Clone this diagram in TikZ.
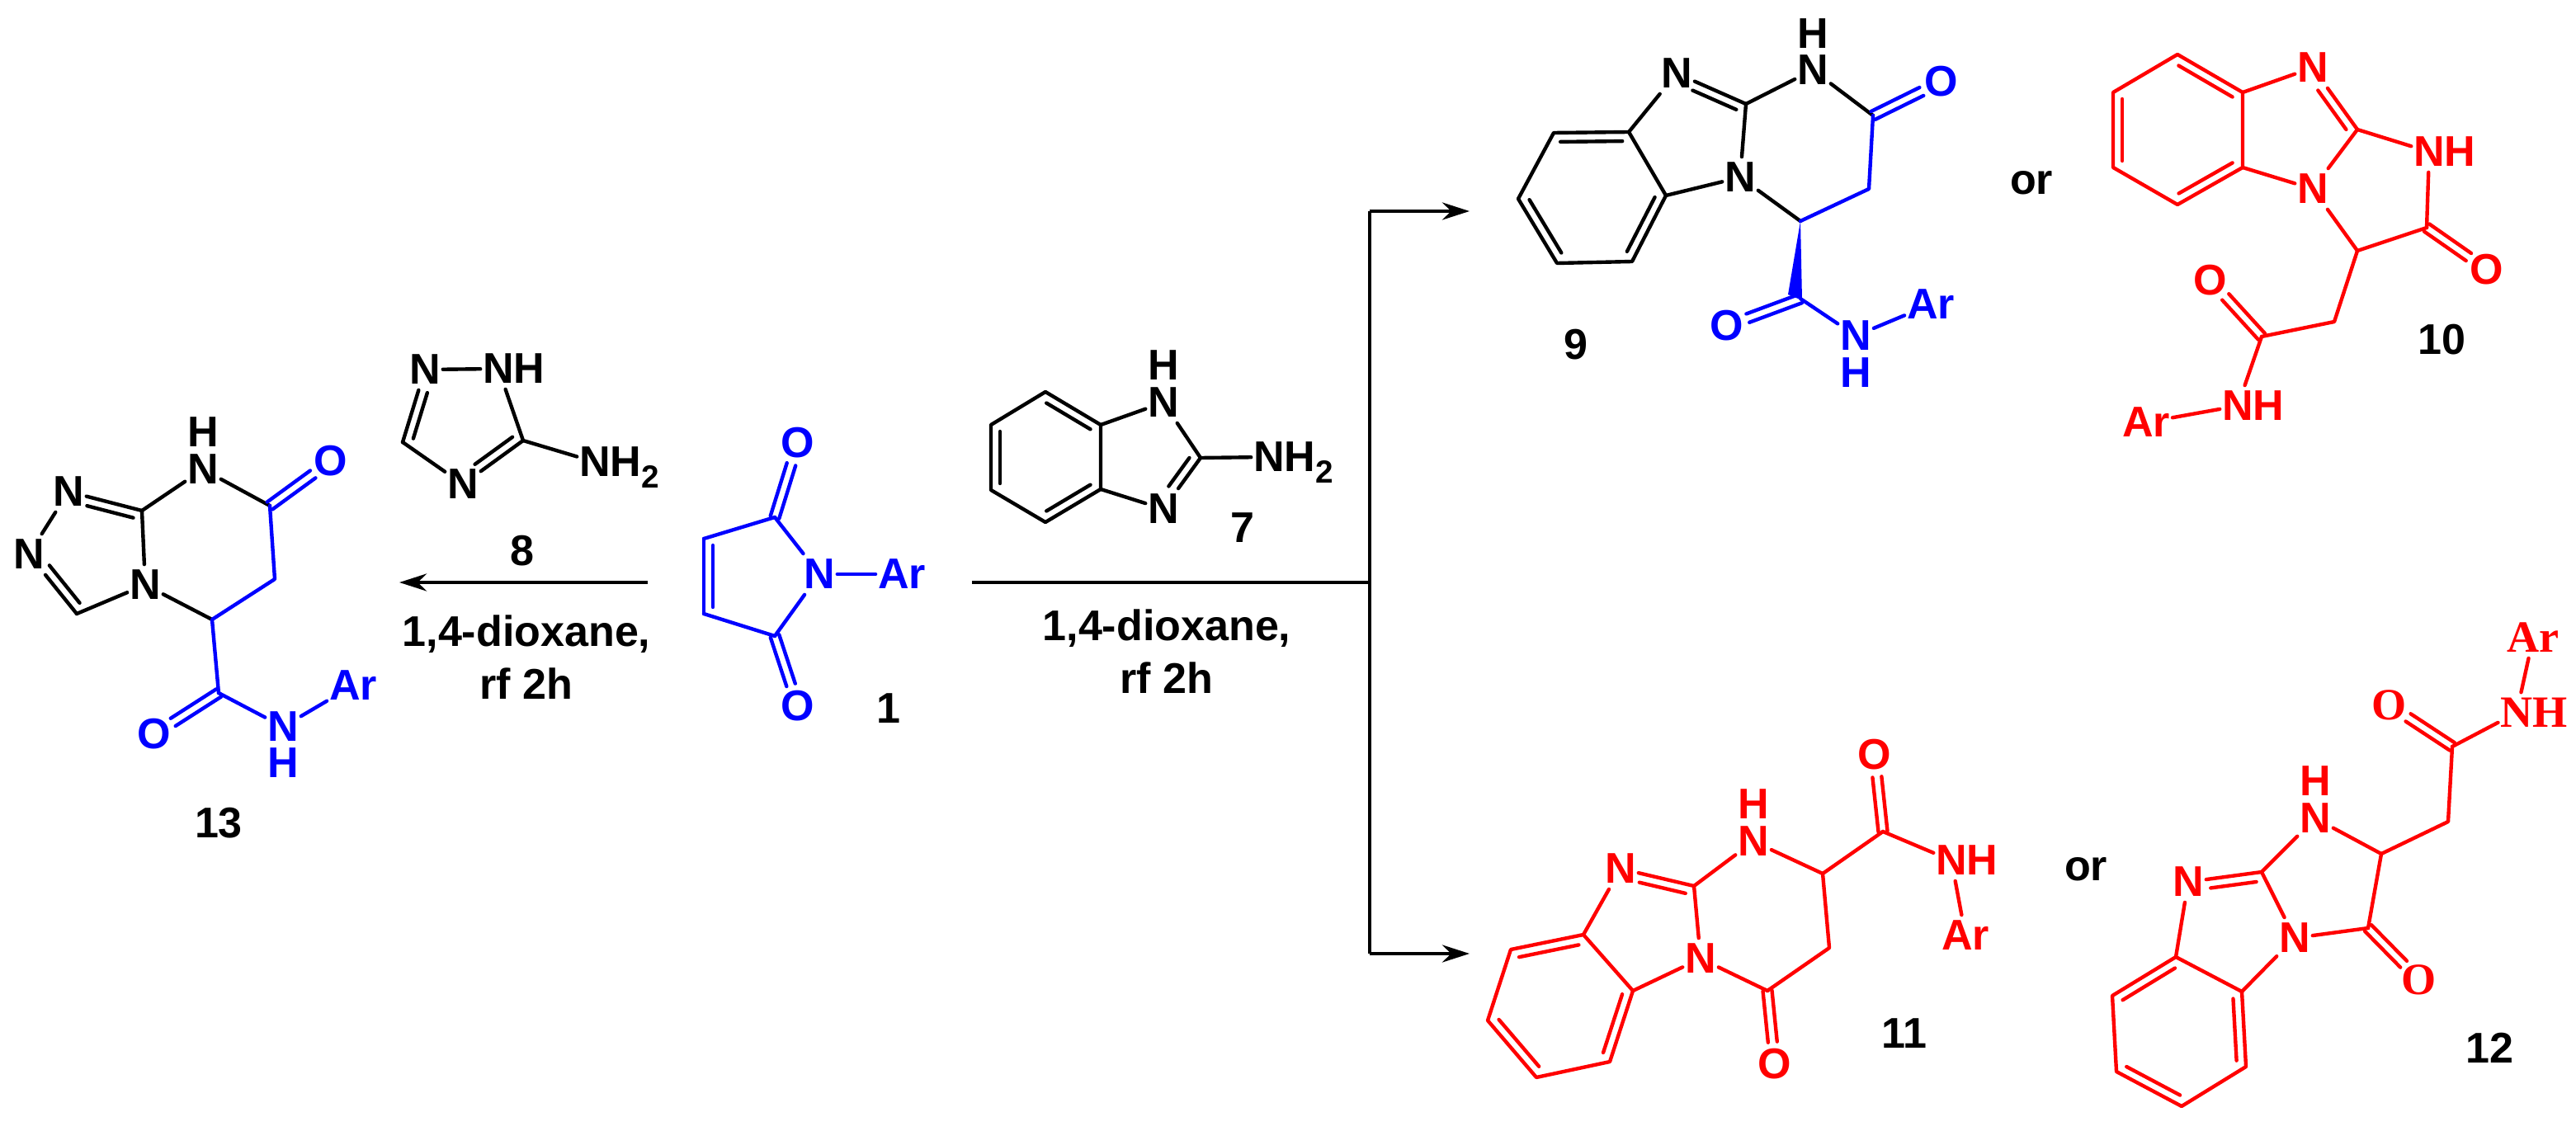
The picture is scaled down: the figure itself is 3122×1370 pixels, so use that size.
\documentclass[tikz,border=0pt]{standalone}
\usepackage{fontspec}
\setmainfont{Liberation Sans}
\newfontfamily\serifchem{Liberation Serif}
\usetikzlibrary{calc}
\usetikzlibrary{arrows.meta}

\newcommand{\chemfont}{\fontsize{14.8}{18.2}\selectfont\bfseries}
\newcommand{\subtwo}{\smash{\raisebox{-0.26em}{\fontsize{11}{11}\selectfont 2}}}
\tikzset{
    bond/.style={line width=1.25pt, line cap=round, line join=round},
    atom/.style={rectangle, inner xsep=0.03cm, inner ysep=0.07cm, outer sep=0pt, font=\chemfont},
    hatom/.style={atom, inner ysep=0pt},
    serifatom/.style={atom, font=\fontsize{15.4}{18}\selectfont\serifchem\bfseries},
    lbl/.style={inner sep=0pt, outer sep=0pt, font=\chemfont, align=center},
    rxn/.style={line width=1.35pt},
    head/.style={-{Stealth[length=0.33cm, width=0.21cm]}},
    fromatom/.style={shorten <=0.26cm},
    toatom/.style={shorten >=0.26cm},
}
% ring double bond, the short line lies on the right of a -> b
\newcommand{\indbl}[3][]{%
    \draw[bond] (#2)--(#3);
    \draw[bond, shorten <=0.08cm, shorten >=0.08cm, #1] ($(#2)!0.11cm!-90:(#3)$)--($(#3)!0.11cm!90:(#2)$);
}
% carbonyl, two equal lines
\newcommand{\cobond}[2]{%
    \draw[bond, shorten >=0.27cm] ($(#1)!0.055cm!-90:(#2)$)--($(#2)!0.055cm!90:(#1)$);
    \draw[bond, shorten >=0.27cm] ($(#1)!0.055cm!90:(#2)$)--($(#2)!0.055cm!-90:(#1)$);
}
% benzene ring from the coordinates name1..name6, clockwise
\newcommand{\benzring}[1]{%
    \draw[bond] (#11)--(#12)--(#13)--(#14)--(#15)--(#16)--cycle;
    \draw[bond, shorten <=0.08cm, shorten >=0.08cm] ($(#11)!0.11cm!-90:(#12)$)--($(#12)!0.11cm!90:(#11)$);
    \draw[bond, shorten <=0.08cm, shorten >=0.08cm] ($(#13)!0.11cm!-90:(#14)$)--($(#14)!0.11cm!90:(#13)$);
    \draw[bond, shorten <=0.08cm, shorten >=0.08cm] ($(#15)!0.11cm!-90:(#16)$)--($(#16)!0.11cm!90:(#15)$);
}

\begin{document}
\begin{tikzpicture}[x=0.01cm, y=-0.01cm]
    \useasboundingbox (0,0) rectangle (3122,1370);
    % - Reaction lines
    \coordinate (arrowtail) at (785,706);
    \coordinate (arrowtip) at (484,706);
    \coordinate (forkstart) at (1178,706);
    \coordinate (fork) at (1660,706);
    \coordinate (forkup) at (1660,256);
    \coordinate (forkdown) at (1660,1156);
    \coordinate (tipup) at (1781,256);
    \coordinate (tipdown) at (1781,1156);
    \draw[rxn, head] (arrowtail)--(arrowtip);
    \draw[rxn] (forkstart)--(fork);
    \draw[rxn] (forkup)--(forkdown);
    \draw[rxn, head] (forkup)--(tipup);
    \draw[rxn, head] (forkdown)--(tipdown);
    % - Conditions
    \node[lbl] (condleft) at (638,797){1,4-dioxane,\\rf 2h};
    \node[lbl] (condright) at (1414,790){1,4-dioxane,\\rf 2h};
    % - Compound numbers
    \node[lbl] (num1) at (1077,859){1};
    \node[lbl] (num7) at (1506,640){7};
    \node[lbl] (num8) at (633,668){8};
    \node[lbl] (num9) at (1910,418){9};
    \node[lbl] (num10) at (2959,412){10};
    \node[lbl] (num11) at (2308,1253){11};
    \node[lbl] (num12) at (3017,1270){12};
    \node[lbl] (num13) at (265,998){13};
    \node[lbl] (orup) at (2462,222){or};
    \node[lbl] (ordown) at (2528,1054){or};
    % - Compound 7
    \coordinate (g71) at (1267,475);
    \coordinate (g72) at (1334,515);
    \coordinate (g73) at (1334,593);
    \coordinate (g74) at (1267,633);
    \coordinate (g75) at (1201,594);
    \coordinate (g76) at (1201,515);
    \coordinate (c7a) at (1455,555);
    \node[atom] (n7a) at (1410,488){N};
    \node[hatom] (h7a) at (1410,443){H};
    \node[atom] (n7b) at (1410,617){N};
    \node[atom] (n7c) at (1538,554){N\rlap{H\subtwo}};
    \benzring{g7}
    \draw[bond] (g72)--(n7a);
    \draw[bond] (n7a)--(c7a);
    \draw[bond] (g73)--(n7b);
    \draw[bond] (c7a)--(n7c);
    \indbl[toatom]{c7a}{n7b}
    % - Compound 8
    \coordinate (c8a) at (634,534);
    \coordinate (c8b) at (488,536);
    \node[atom] (n8a) at (515,448){N};
    \node[atom] (n8b) at (604,447){N\rlap{H}};
    \node[atom] (n8c) at (561,587){N};
    \node[atom] (n8d) at (721,560){N\rlap{H\subtwo}};
    \draw[bond] (n8a)--(n8b);
    \draw[bond] (n8b)--(c8a);
    \draw[bond] (c8a)--(n8d);
    \draw[bond] (c8b)--(n8c);
    \indbl[toatom]{c8a}{n8c}
    \indbl[toatom]{c8b}{n8a}
    % - Compound 1
    \begin{scope}[blue]
        \coordinate (c1a) at (939,627);
        \coordinate (c1b) at (853,653);
        \coordinate (c1c) at (853,744);
        \coordinate (c1d) at (939,771);
        \node[atom] (n1a) at (993,696){N};
        \node[atom] (ar1) at (1093,696){Ar};
        \node[atom] (o1a) at (967,537){O};
        \node[atom] (o1b) at (967,856){O};
        \draw[bond] (c1b)--(c1a);
        \draw[bond] (c1c)--(c1d);
        \draw[bond] (c1a)--(n1a);
        \draw[bond] (c1d)--(n1a);
        \draw[bond] (n1a)--(ar1);
        \indbl{c1c}{c1b}
        \cobond{c1a}{o1a}
        \cobond{c1d}{o1b}
    \end{scope}
    % - Compound 13
    \coordinate (c13a) at (172,619);
    \coordinate (c13b) at (93,744);
    \coordinate (c13c) at (327,613);
    \coordinate (c13d) at (257,751);
    \coordinate (c13e) at (333,702);
    \coordinate (c13f) at (265,840);
    \node[atom] (n13a) at (83,596){N};
    \node[atom] (n13b) at (35,672){N};
    \node[atom] (n13c) at (176,709){N};
    \node[atom] (n13d) at (246,569){N};
    \node[hatom] (h13d) at (246,524){H};
    \draw[bond] (n13a)--(n13b);
    \draw[bond] (c13a)--(n13c);
    \draw[bond] (c13b)--(n13c);
    \draw[bond] (c13a)--(n13d);
    \draw[bond] (n13d)--(c13c);
    \draw[bond] (n13c)--(c13d);
    \indbl[fromatom]{n13a}{c13a}
    \indbl[toatom]{c13b}{n13b}
    \begin{scope}[blue]
        \node[atom] (o13a) at (401,559){O};
        \node[atom] (o13b) at (187,890){O};
        \node[atom] (n13e) at (343,881){N};
        \node[hatom] (h13e) at (343,925){H};
        \node[atom] (ar13) at (428,831){Ar};
        \draw[bond] (c13c)--(c13e)--(c13d)--(c13f);
        \draw[bond] (c13f)--(n13e);
        \draw[bond] (n13e)--(ar13);
        \cobond{c13c}{o13a}
        \cobond{c13f}{o13b}
    \end{scope}
    % - Compound 9
    \coordinate (g91) at (1883,161);
    \coordinate (g92) at (1974,160);
    \coordinate (g93) at (2019,237);
    \coordinate (g94) at (1978,317);
    \coordinate (g95) at (1887,319);
    \coordinate (g96) at (1840,241);
    \coordinate (c9a) at (2116,126);
    \coordinate (c9b) at (2270,140);
    \coordinate (c9c) at (2265,229);
    \coordinate (c9d) at (2182,268);
    \coordinate (c9e) at (2182,362);
    \coordinate (w9a) at (2167,357);
    \coordinate (w9b) at (2184,364);
    \node[atom] (n9a) at (2032,89){N};
    \node[atom] (n9b) at (2197,85){N};
    \node[hatom] (h9b) at (2197,41){H};
    \node[atom] (n9c) at (2109,215){N};
    \benzring{g9}
    \draw[bond] (g92)--(n9a);
    \draw[bond] (g93)--(n9c);
    \draw[bond] (c9a)--(n9b);
    \draw[bond] (c9a)--(n9c);
    \draw[bond] (n9b)--(c9b);
    \draw[bond] (n9c)--(c9d);
    \indbl[fromatom]{n9a}{c9a}
    \begin{scope}[blue]
        \node[atom] (o9a) at (2353,99){O};
        \node[atom] (o9b) at (2093,395){O};
        \node[atom] (n9d) at (2249,407){N};
        \node[hatom] (h9d) at (2249,452){H};
        \node[atom] (ar9) at (2340,369){Ar};
        \draw[bond] (c9b)--(c9c)--(c9d);
        \fill (c9d)--(w9a)--(w9b)--cycle;
        \draw[bond] (c9e)--(n9d);
        \draw[bond] (n9d)--(ar9);
        \cobond{c9b}{o9a}
        \cobond{c9e}{o9b}
    \end{scope}
    % - Compound 10
    \begin{scope}[red]
        \coordinate (g101) at (2639,66);
        \coordinate (g102) at (2718,112);
        \coordinate (g103) at (2718,203);
        \coordinate (g104) at (2639,248);
        \coordinate (g105) at (2561,203);
        \coordinate (g106) at (2561,112);
        \coordinate (c10a) at (2857,157);
        \coordinate (c10b) at (2857,304);
        \coordinate (c10c) at (2941,276);
        \coordinate (c10d) at (2829,390);
        \coordinate (c10e) at (2741,408);
        \node[atom] (n10a) at (2803,82){N};
        \node[atom] (n10b) at (2803,229){N};
        \node[atom] (n10c) at (2944,184){N\rlap{H}};
        \node[atom] (n10d) at (2712,492){N\rlap{H}};
        \node[atom] (o10a) at (3014,327){O};
        \node[atom] (o10b) at (2679,340){O};
        \node[atom] (ar10) at (2601,512){Ar};
        \benzring{g10}
        \draw[bond] (g102)--(n10a);
        \draw[bond] (g103)--(n10b);
        \draw[bond] (c10a)--(n10b);
        \draw[bond] (c10a)--(n10c);
        \draw[bond] (n10c)--(c10c);
        \draw[bond] (n10b)--(c10b);
        \draw[bond] (c10c)--(c10b)--(c10d)--(c10e);
        \draw[bond] (c10e)--(n10d);
        \draw[bond] (n10d)--(ar10);
        \indbl[fromatom]{n10a}{c10a}
        \cobond{c10c}{o10a}
        \cobond{c10e}{o10b}
    \end{scope}
    % - Compound 11
    \begin{scope}[red]
        \coordinate (g111) at (1831,1151);
        \coordinate (g112) at (1919,1133);
        \coordinate (g113) at (1979,1201);
        \coordinate (g114) at (1951,1287);
        \coordinate (g115) at (1862,1306);
        \coordinate (g116) at (1803,1237);
        \coordinate (c11a) at (2053,1074);
        \coordinate (c11b) at (2209,1059);
        \coordinate (c11c) at (2282,1008);
        \coordinate (c11d) at (2217,1149);
        \coordinate (c11e) at (2142,1201);
        \node[atom] (n11a) at (1964,1053){N};
        \node[atom] (n11b) at (2125,1020){N};
        \node[hatom] (h11b) at (2125,975){H};
        \node[atom] (n11c) at (2061,1162){N};
        \node[atom] (n11d) at (2365,1043){N\rlap{H}};
        \node[atom] (o11a) at (2272,915){O};
        \node[atom] (o11b) at (2151,1290){O};
        \node[atom] (ar11) at (2382,1134){Ar};
        \benzring{g11}
        \draw[bond] (g112)--(n11a);
        \draw[bond] (g113)--(n11c);
        \draw[bond] (c11a)--(n11b);
        \draw[bond] (c11a)--(n11c);
        \draw[bond] (n11b)--(c11b);
        \draw[bond] (n11c)--(c11e);
        \draw[bond] (c11c)--(c11b)--(c11d)--(c11e);
        \draw[bond] (c11c)--(n11d);
        \draw[bond] (n11d)--(ar11);
        \indbl[fromatom]{n11a}{c11a}
        \cobond{c11c}{o11a}
        \cobond{c11e}{o11b}
    \end{scope}
    % - Compound 12
    \begin{scope}[red]
        \coordinate (g121) at (2560,1207);
        \coordinate (g122) at (2637,1160);
        \coordinate (g123) at (2717,1202);
        \coordinate (g124) at (2722,1293);
        \coordinate (g125) at (2644,1341);
        \coordinate (g126) at (2565,1299);
        \coordinate (c12a) at (2741,1057);
        \coordinate (c12b) at (2886,1035);
        \coordinate (c12c) at (2870,1125);
        \coordinate (c12d) at (2967,996);
        \coordinate (c12e) at (2972,905);
        \node[atom] (n12a) at (2652,1069){N};
        \node[atom] (n12b) at (2806,992){N};
        \node[hatom] (h12b) at (2806,947){H};
        \node[atom] (n12c) at (2781,1137){N};
        \node[serifatom] (n12d) at (3050,864){N\rlap{H}};
        \node[serifatom] (o12a) at (2896,855){O};
        \node[serifatom] (o12b) at (2932,1188){O};
        \node[serifatom] (ar12) at (3070,773){Ar};
        \benzring{g12}
        \draw[bond] (g122)--(n12a);
        \draw[bond] (g123)--(n12c);
        \draw[bond] (c12a)--(n12b);
        \draw[bond] (c12a)--(n12c);
        \draw[bond] (n12b)--(c12b);
        \draw[bond] (n12c)--(c12c);
        \draw[bond] (c12c)--(c12b)--(c12d)--(c12e);
        \draw[bond] (c12e)--(n12d);
        \draw[bond] (n12d)--(ar12);
        \indbl[fromatom]{n12a}{c12a}
        \cobond{c12e}{o12a}
        \cobond{c12c}{o12b}
    \end{scope}
\end{tikzpicture}
\end{document}
